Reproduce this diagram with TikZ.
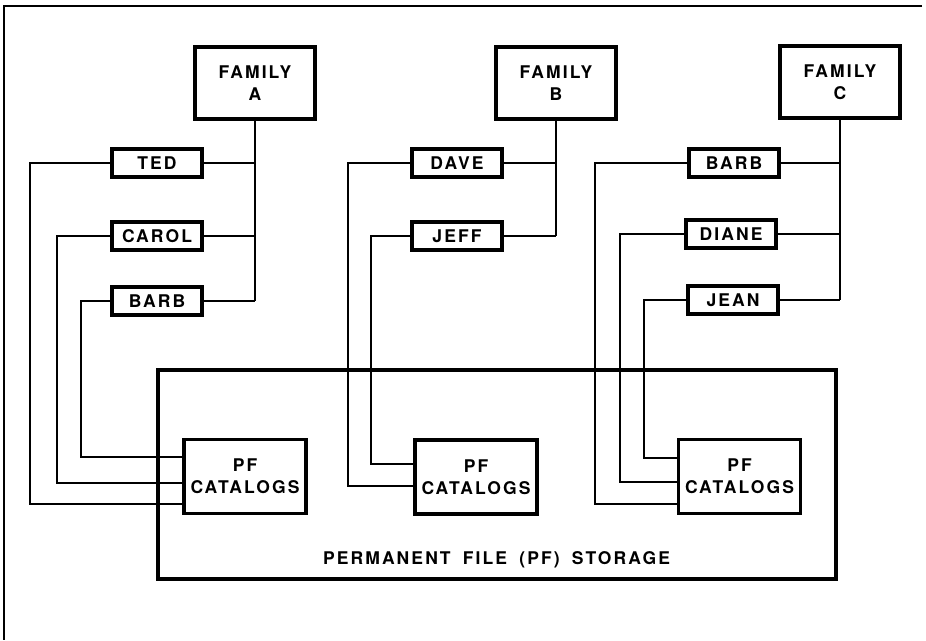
\documentclass[tikz,border=0pt]{standalone}
\usepackage{fontspec}
\setmainfont{TeX Gyre Heros}[LetterSpace=12]
\usetikzlibrary{positioning}
\begin{document}
\begin{tikzpicture}[x=1pt, y=-1pt]
  % Define box and wire styles
  \tikzstyle{boxfont} = [font=\bfseries\fontsize{17.5}{22}\selectfont]
  \tikzstyle{familybox} = [draw, line width=4pt, rectangle, boxfont,
  minimum width=120pt, minimum height=72pt, align=center]
  \tikzstyle{namebox} = [draw, line width=4pt, rectangle, boxfont,
  minimum width=90pt, minimum height=28pt, inner sep=0pt]
  \tikzstyle{catbox} = [draw, line width=3.5pt, rectangle, fill=white, boxfont,
  minimum width=122pt, minimum height=74pt, align=center]
  \tikzstyle{storebox} = [draw, line width=4pt, rectangle,
  minimum width=678pt, minimum height=209pt]
  \tikzstyle{wire} = [line width=2.2pt]

  \useasboundingbox (0,0) rectangle (926,640);
  \draw[line width=1.4pt] (922,6) -- (4,6) -- (4,640);

  % Storage
  \node[storebox] (store) at (496.5,474) {};
  \node[boxfont, above=9pt of store.south] (storelbl)
    {PERMANENT\hspace{0.3em} FILE\hspace{0.3em} (PF)\hspace{0.3em} STORAGE};

  % Families
  \node[familybox] (famA) at (255,83) {FAMILY\\A};
  \node[familybox] (famB) at (556,83) {FAMILY\\B};
  \node[familybox] (famC) at (840,82) {FAMILY\\C};

  % Users
  \node[namebox] (tedA) at (157,163) {TED};
  \node[namebox] (carolA) at (157,236) {CAROL};
  \node[namebox] (barbA) at (157,301) {BARB};
  \node[namebox] (daveB) at (457,163) {DAVE};
  \node[namebox] (jeffB) at (457,236) {JEFF};
  \node[namebox] (barbC) at (734,163) {BARB};
  \node[namebox] (dianeC) at (731,234) {DIANE};
  \node[namebox] (jeanC) at (733,300) {JEAN};

  % Catalogs
  \node[catbox] (catA) at (245,476.5) {PF\\CATALOGS};
  \node[catbox] (catB) at (476,477) {PF\\CATALOGS};
  \node[catbox] (catC) at (739.5,476.5) {PF\\CATALOGS};

  % Family trunks
  \draw[wire] (famA.south) -- (famA.south |- barbA.east);
  \draw[wire] (tedA.east) -- (tedA.east -| famA.south);
  \draw[wire] (carolA.east) -- (carolA.east -| famA.south);
  \draw[wire] (barbA.east) -- (barbA.east -| famA.south);
  \draw[wire] (famB.south) -- (famB.south |- jeffB.east);
  \draw[wire] (daveB.east) -- (daveB.east -| famB.south);
  \draw[wire] (jeffB.east) -- (jeffB.east -| famB.south);
  \draw[wire] (famC.south) -- (famC.south |- jeanC.east);
  \draw[wire] (barbC.east) -- (barbC.east -| famC.south);
  \draw[wire] (dianeC.east) -- (dianeC.east -| famC.south);
  \draw[wire] (jeanC.east) -- (jeanC.east -| famC.south);

  % Users to catalogs
  \draw[wire] (barbA.west) -- ++(-29,0) |- ([yshift=19.5pt]catA.west);
  \draw[wire] (carolA.west) -- ++(-53,0) |- ([yshift=-6.5pt]catA.west);
  \draw[wire] (tedA.west) -- ++(-80,0) |- ([yshift=-27.5pt]catA.west);
  \draw[wire] (jeffB.west) -- ++(-39,0) |- ([yshift=13pt]catB.west);
  \draw[wire] (daveB.west) -- ++(-62,0) |- ([yshift=-9pt]catB.west);
  \draw[wire] (jeanC.west) -- ++(-42,0) |- ([yshift=18.5pt]catC.west);
  \draw[wire] (dianeC.west) -- ++(-64,0) |- ([yshift=-5.5pt]catC.west);
  \draw[wire] (barbC.west) -- ++(-92,0) |- ([yshift=-27.5pt]catC.west);
\end{tikzpicture}
\end{document}
